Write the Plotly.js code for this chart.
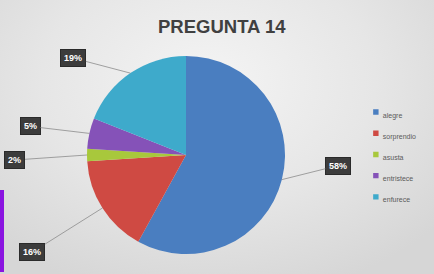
<!DOCTYPE html>
<html>
<head>
<meta charset="utf-8">
<script src="https://cdn.plot.ly/plotly-3.0.1.min.js"></script>
<style>
  html, body { margin: 0; padding: 0; }
  body {
    width: 434px; height: 274px; overflow: hidden;
    background: radial-gradient(ellipse 70% 80% at 48% 30%, #f4f4f4 0%, #e6e6e6 55%, #d6d6d6 100%);
  }
  #chart { width: 434px; height: 274px; }
  .legendpoints path.legendpie { transform: translate(33px, 0px) scale(0.45); }
</style>
</head>
<body>
<div id="chart"></div>
<script>
const title = "PREGUNTA 14";
const categories = ["alegre", "sorprendio", "asusta", "entristece", "enfurece"];
const values = [58, 16, 2, 5, 19];
const colors = ["#4a7ec0", "#cf4a43", "#a8c83c", "#8552b8", "#3eaacb"];
// label box offsets (pixels) from slice edge
const labelOffsets = [[56, -14], [-70, 44], [-72, 5], [-59, -7], [-57, -15]];

const W = 434, H = 274;
const dom = { x: [87 / W, 285 / W], y: [20 / H, 218 / H] };
const cx = (dom.x[0] + dom.x[1]) / 2, cy = (dom.y[0] + dom.y[1]) / 2;
const rpx = (dom.x[1] - dom.x[0]) * W / 2;
const total = values.reduce((a, b) => a + b, 0);

const annotations = [];
let cum = 0;
values.forEach((v, i) => {
  const mid = (cum + v / 2) / total;
  cum += v;
  const ang = Math.PI / 2 - mid * 2 * Math.PI;
  const px = cx + rpx * Math.cos(ang) / W;
  const py = cy + rpx * Math.sin(ang) / H;
  annotations.push({
    x: px, y: py, xref: "paper", yref: "paper",
    text: "<b>" + Math.round(v / total * 100) + "%</b>",
    showarrow: true, arrowhead: 0, arrowwidth: 0.8, arrowcolor: "#8c8c8c",
    ax: labelOffsets[i][0], ay: labelOffsets[i][1],
    bgcolor: "#3c3c3c", bordercolor: "#2a2a2a", borderwidth: 1, borderpad: 3,
    font: { family: "Liberation Sans, Arial, sans-serif", size: 9, color: "#ffffff" }
  });
});

const legendLabels = categories.map(c => '<span style="font-size:7px">' + c + '</span>');

const data = [{
  type: "pie",
  labels: legendLabels,
  values: values,
  sort: false,
  direction: "clockwise",
  rotation: 0,
  textinfo: "none",
  hoverinfo: "label+percent",
  marker: { colors: colors, line: { width: 0 } },
  domain: dom,
  automargin: false
}];

const layout = {
  width: W, height: H,
  margin: { l: 0, r: 0, t: 0, b: 0 },
  paper_bgcolor: "rgba(0,0,0,0)",
  plot_bgcolor: "rgba(0,0,0,0)",
  showlegend: true,
  title: {
    text: "<b>" + title + "</b>",
    x: 0.511, xanchor: "center", y: 0.905, yanchor: "middle",
    font: { family: "Liberation Sans, Arial, sans-serif", size: 18.5, color: "#404040" }
  },
  legend: {
    x: 0.79, xanchor: "left", y: 0.648, yanchor: "top",
    bgcolor: "rgba(0,0,0,0)",
    font: { family: "Liberation Sans, Arial, sans-serif", size: 14, color: "#5a5a5a" },
    itemwidth: 30
  },
  annotations: annotations,
  shapes: [{
    type: "rect", xref: "paper", yref: "paper",
    x0: 0, x1: 4 / W, y0: 2 / H, y1: 84 / H,
    fillcolor: "#8a14e0", line: { width: 0 }, layer: "above"
  }]
};

Plotly.newPlot("chart", data, layout, { displayModeBar: false, staticPlot: true });
</script>
</body>
</html>
